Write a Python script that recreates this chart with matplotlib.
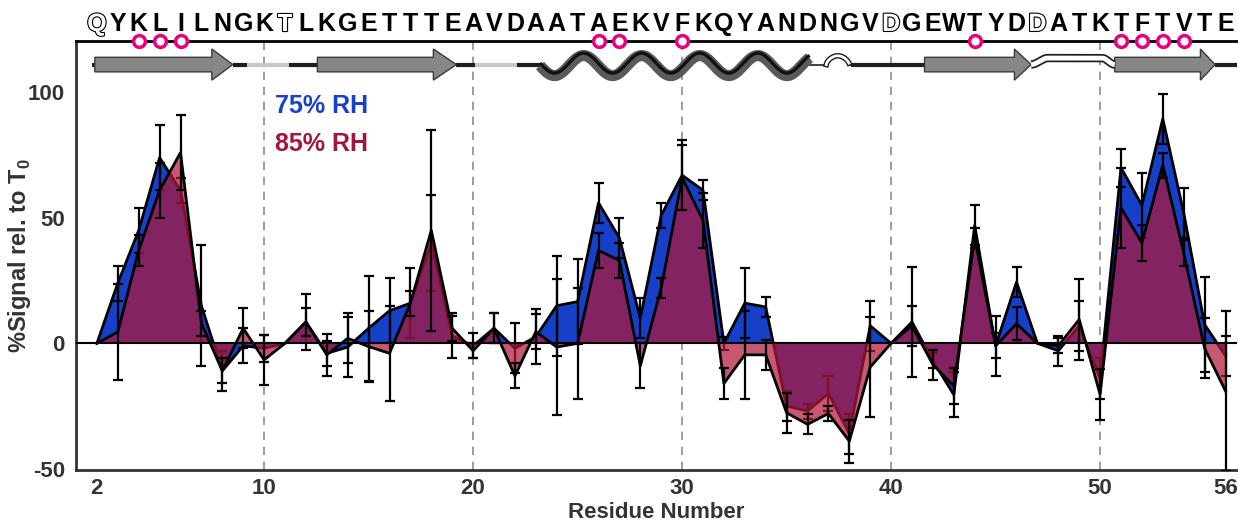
import numpy as np
import matplotlib
matplotlib.use('Agg')
import matplotlib.pyplot as plt
import matplotlib.patheffects as pe
from matplotlib.patches import Polygon

plt.rcParams['font.family'] = ['Liberation Sans', 'DejaVu Sans']
plt.rcParams['mathtext.fontset'] = 'custom'
plt.rcParams['mathtext.rm'] = 'Liberation Sans'
plt.rcParams['mathtext.bf'] = 'Liberation Sans:bold'
plt.rcParams['axes.unicode_minus'] = False

# --- datos ---
residues = list(range(2, 57))
sequence = "QYKLILNGKTLKGETTTEAVDAATAEKVFKQYANDNGVDGEWTYDDATKTFTVTE"
outlined = [2, 11, 40, 47]
marked = [4, 5, 6, 26, 27, 30, 44, 51, 52, 53, 54]

rh75 = [0, 24, 45, 74, 61, 15, -11, -1, -2, 0, 8.5, -4, -1.5, 6, 13, 16, 40, 3, -1, 6,
        -2, 2.6, 15, 16.6, 56, 42, 10, 51, 67, 61, 0, 16, 14.5, -25, -27, -20, -36, 7, 0, 8.5,
        -7, -20.5, 47, -1, 24.4, 0, -3, 7, -14, 70, 55, 89.5, 52, 7.5, -5]
rh75_err = [0, 7, 9, 13, 5, 24, 8, 7, 5.5, 0, 11, 5, 12, 21, 13, 14, 19, 9, 5, 6,
            10, 11, 20, 17, 8, 8, 8, 5, 14, 4, 2.5, 14, 4, 6, 3, 7, 8, 10, 0, 22,
            3, 9, 8, 12, 6, 0, 6, 10, 8, 7.5, 13, 10, 10, 19, 8]
rh85 = [0, 4.5, 37, 61, 76, 8, -11, 6, -6.6, 0, 8.5, -4.6, 2, -1.3, -4, 16, 45, 6, -3, 6,
        -13, 4.6, -1.5, 0, 37, 33, -9, 22, 66, 49, -16, -4.6, -4.6, -27.7, -32.3, -28, -39, -9.5, 0, 7,
        -8.5, -17, 42, -1, 7.8, 0, -1, 9.5, -20.4, 54, 40, 71, 36, -2, -19]
rh85_err = [0, 19, 6, 11, 15, 5, 5, 8, 10, 0, 5.6, 8.5, 10, 14, 19, 5, 40, 5, 3, 6,
            5, 7, 27, 22, 7, 7, 9, 4, 13, 11, 6, 17.5, 6, 8, 4, 3, 8.6, 20, 0, 8,
            6, 7, 4, 5, 6.5, 0, 3, 16, 10, 16, 7, 5, 5, 12, 32]

# estructura secundaria (en numero de residuo)
strands = [(1.9, 7.5, 8.5), (12.55, 18.1, 19.2), (41.6, 45.9, 46.7), (50.7, 54.8, 55.5)]
helix = (23.2, 36.1)
dark_links = [(1.75, 1.9), (8.5, 9.2), (11.2, 12.55), (19.2, 20.1), (22.1, 23.2),
              (38.1, 41.6), (55.5, 56.6)]
light_links = [(9.2, 11.2), (20.1, 22.1)]

blue = '#1640c8'
red = '#b0183a'

fig = plt.figure(figsize=(12.38, 5.21), dpi=100)
ax = fig.add_axes([76 / 1238, 51 / 521, 1161 / 1238, 429 / 521])
ax.set_xlim(1.0, 56.55)
ax.set_ylim(-50.5, 120.5)

for xv in [10, 20, 30, 40, 50]:
    ax.axvline(xv, color='#8c8c8c', lw=1.2, dashes=(5, 4), zorder=0.5)

# 75% RH
ax.fill_between(residues, rh75, 0, color=blue, lw=0, zorder=2)
ax.plot(residues, rh75, color='black', lw=2, zorder=2.1)


def draw_errors(vals, errs, z):
    xs = [r for r, e in zip(residues, errs) if e > 0]
    ys = [v for v, e in zip(vals, errs) if e > 0]
    es = [e for e in errs if e > 0]
    ax.errorbar(xs, ys, yerr=es, fmt='none', ecolor='black', elinewidth=1.6,
                capsize=3.5, capthick=1.6, zorder=z)


draw_errors(rh75, rh75_err, 2.2)

# 85% RH
ax.fill_between(residues, rh85, 0, color=red, alpha=0.72, lw=0, zorder=3)
ax.plot(residues, rh85, color='black', lw=2, zorder=3.5)
draw_errors(rh85, rh85_err, 3.6)

ax.axhline(0, color='black', lw=1.5, zorder=4)

ax.text(10.5, 94.5, '75% RH', color='#1a3fc8', fontsize=18, fontweight='bold', va='center')
ax.text(10.5, 79.5, '85% RH', color='#a3163c', fontsize=18, fontweight='bold', va='center')

# --- dibujo de estructura secundaria ---
yc = 111.1
for x0, xb, xe in strands:
    pts = [(x0, yc - 2.9), (xb, yc - 2.9), (xb, yc - 6.2), (xe, yc), (xb, yc + 6.2),
           (xb, yc + 2.9), (x0, yc + 2.9)]
    ax.add_patch(Polygon(pts, closed=True, facecolor='#878787', edgecolor='#3a3a3a',
                         lw=1, zorder=6))
for a, b in dark_links:
    ax.plot([a, b], [yc, yc], color='#1e1e1e', lw=3, solid_capstyle='butt', zorder=5.5)
for a, b in light_links:
    ax.plot([a, b], [yc, yc], color='#c8c8c8', lw=3, solid_capstyle='butt', zorder=5.5)

hx = np.linspace(helix[0], helix[1], 500)
hy = yc + 0.6 - 4.0 * np.sin(2 * np.pi * (hx - helix[0]) / 2.78)
ax.plot(hx, hy - 1.0, color='#5a5a5a', lw=8, solid_capstyle='butt', zorder=6)
ax.plot(hx, hy, color='#111111', lw=2.4, solid_capstyle='butt', zorder=6.1)

ax.plot([36.1, 36.9], [yc, yc], color='#1e1e1e', lw=1.2, zorder=5.5)
ax.plot([38.0, 38.1], [yc, yc], color='#1e1e1e', lw=1.2, zorder=5.5)
ax_x = np.linspace(36.9, 38.0, 60)
ax_y = yc + 3.5 * np.sin(np.pi * (ax_x - 36.9) / 1.1) ** 0.6
ax.plot(ax_x, ax_y, color='#1e1e1e', lw=4, zorder=6)
ax.plot(ax_x, ax_y, color='white', lw=2, zorder=6.1)

bx = np.linspace(46.7, 50.7, 200)
t = np.clip(np.minimum((bx - 46.7) / 0.8, (50.7 - bx) / 0.6), 0, 1)
by = yc + 2.6 * (3 * t ** 2 - 2 * t ** 3)
ax.plot(bx, by, color='#1e1e1e', lw=6, solid_capstyle='butt', zorder=6)
ax.plot(bx, by, color='white', lw=3.5, solid_capstyle='butt', zorder=6.1)

# --- secuencia arriba ---
trans = ax.get_xaxis_transform()
for r, letter in zip(residues, sequence):
    if r in outlined:
        ax.text(r, 1.0235, letter, transform=trans, ha='center', va='baseline',
                fontsize=18, fontweight='bold', color='white', clip_on=False,
                path_effects=[pe.withStroke(linewidth=1.6, foreground='black')])
    else:
        ax.text(r, 1.0235, letter, transform=trans, ha='center', va='baseline',
                fontsize=18, fontweight='bold', color='black', clip_on=False)
ax.plot(marked, [1.0] * len(marked), 'o', transform=trans, ms=8.5, mew=2.5,
        mec='#e5007d', mfc='white', clip_on=False, zorder=10)

# --- ejes ---
ax.set_xticks([2, 10, 20, 30, 40, 50, 56])
ax.set_yticks([-50, 0, 50, 100])
ax.tick_params(length=0, labelsize=16, labelcolor='#333333')
ax.tick_params(axis='x', pad=6)
ax.tick_params(axis='y', pad=8)
for lab in ax.get_xticklabels() + ax.get_yticklabels():
    lab.set_fontweight('bold')

ax.set_xlabel('Residue Number', fontsize=16, fontweight='bold', color='#333333', labelpad=2)
ax.set_ylabel(r'%Signal rel. to T$_{\mathbf{0}}$', fontsize=17, fontweight='bold', color='#333333')
ax.yaxis.set_label_coords(-0.037, 0.5)

ax.spines['right'].set_visible(False)
ax.spines['left'].set_color('#333333')
ax.spines['bottom'].set_color('#333333')
ax.spines['left'].set_linewidth(2)
ax.spines['bottom'].set_linewidth(2)
ax.spines['top'].set_color('black')
ax.spines['top'].set_linewidth(2)
ax.spines['top'].set_zorder(9)

fig.savefig('out.png', dpi=100)
